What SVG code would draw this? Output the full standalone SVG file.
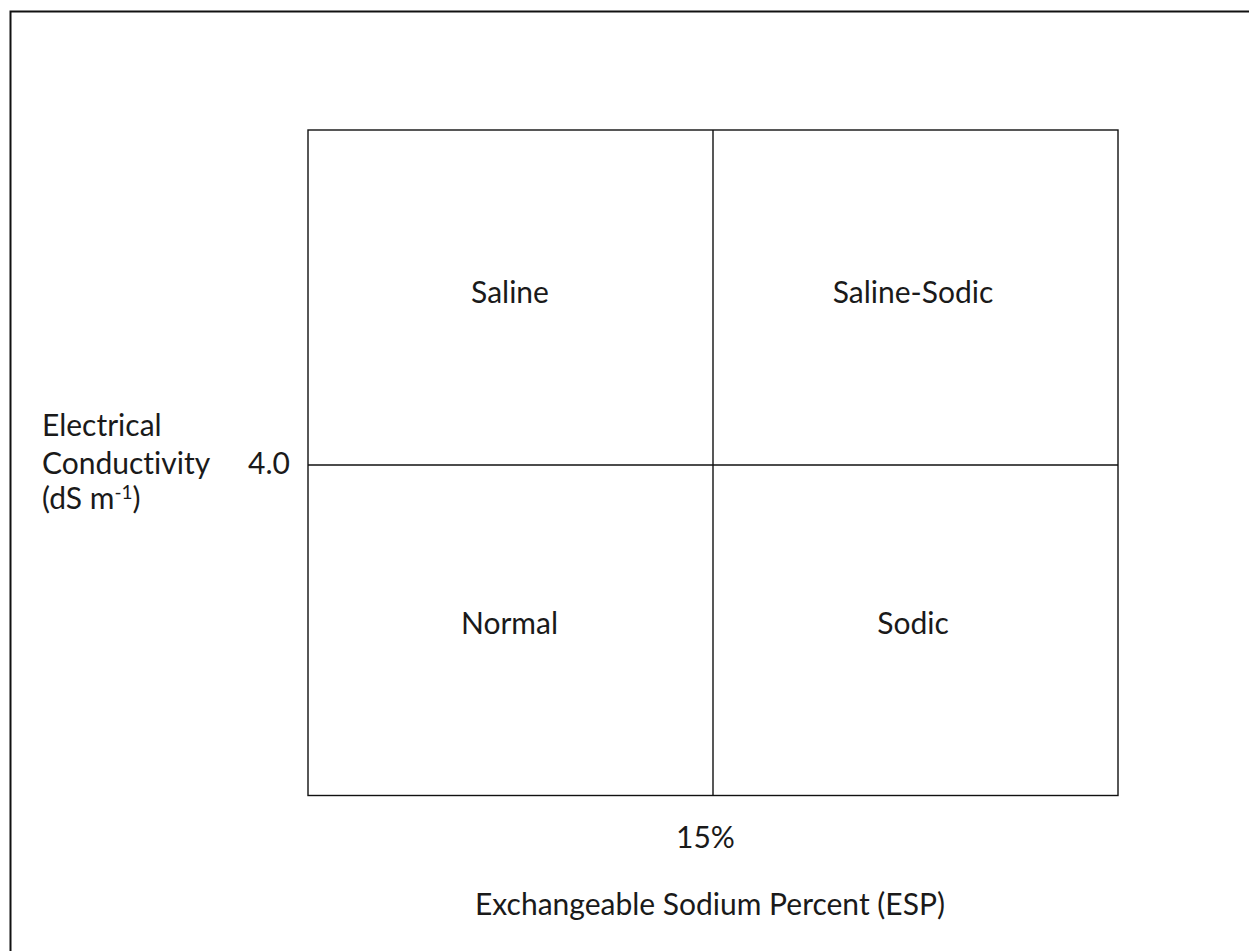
<svg xmlns="http://www.w3.org/2000/svg" width="1249" height="951" viewBox="0 0 1249 951">
<style>
text{font-family:Lato,"Open Sans","Liberation Sans",sans-serif;font-size:30px;fill:#1a1a1a;font-variant-ligatures:none}
.c{text-anchor:middle}
.ln{stroke:#111;stroke-width:1.4;fill:none}
</style>
<rect x="0" y="0" width="1249" height="951" fill="#fff"/>
<rect id="frame" x="10.5" y="11.5" width="1260" height="960" fill="none" stroke="#111" stroke-width="2"/>
<g id="grid">
<rect class="ln" x="308" y="130" width="810" height="665.5"/>
</g>
<g id="connectors">
<line class="ln" x1="713" y1="130" x2="713" y2="795.5"/>
<line class="ln" x1="308" y1="465" x2="1118" y2="465"/>
</g>
<g id="saline"><text class="c" x="510" y="303">Saline</text></g>
<g id="saline-sodic"><text class="c" x="913" y="303">Saline-Sodic</text></g>
<g id="normal"><text class="c" x="509.5" y="634">Normal</text></g>
<g id="sodic"><text class="c" x="913" y="634">Sodic</text></g>
<g id="ec-value"><text x="248" y="474">4.0</text></g>
<g id="y-label">
<text x="42" y="436">Electrical</text>
<text x="42" y="474">Conductivity</text>
<text x="42" y="509">(dS m<tspan dy="-10" font-size="19">-1</tspan><tspan dy="10">)</tspan></text>
</g>
<g id="esp-value"><text class="c" x="705.5" y="848">15%</text></g>
<g id="x-label"><text class="c" x="710" y="915">Exchangeable Sodium Percent (ESP)</text></g>
</svg>
